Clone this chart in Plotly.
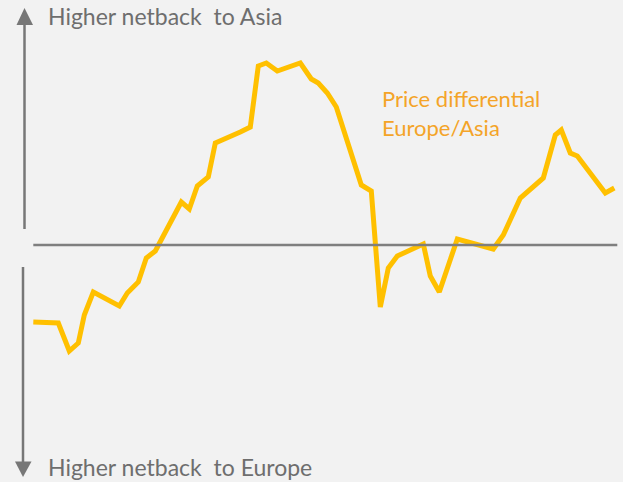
import plotly.graph_objects as go

# time index (arbitrary units) and price differential Europe/Asia (arbitrary units)
period = [0, 2.5, 3.6, 4.5, 5.1, 6.0, 8.6, 9.4, 10.5, 11.3, 12.2, 14.8, 15.6, 16.4, 17.5,
          18.2, 20.7, 21.7, 22.5, 23.3, 24.4, 26.7, 27.8, 28.5, 29.4, 30.3, 32.8, 33.8,
          34.7, 35.5, 36.4, 39.0, 39.7, 40.6, 42.4, 46.0, 47.0, 48.7, 51.0, 52.2, 52.8,
          53.7, 54.4, 57.2, 58.1]
differential = [-7.7, -7.8, -10.6, -9.8, -7.0, -4.7, -6.1, -4.8, -3.7, -1.3, -0.6, 4.3, 3.6,
                5.9, 6.8, 10.2, 11.3, 11.8, 17.9, 18.2, 17.4, 18.2, 16.6, 16.2, 15.2, 13.8,
                6.0, 5.4, -6.2, -2.3, -1.1, 0.1, -3.1, -4.7, 0.6, -0.4, 1.0, 4.7, 6.7, 11.0,
                11.5, 9.2, 8.9, 5.2, 5.7]

top_label = "Higher netback  to Asia"
bottom_label = "Higher netback  to Europe"
series_label = "Price differential<br>Europe/Asia"

W, H = 623, 482
FONT = "Lato"
GREY = "#6e6e6e"

fig = go.Figure()
fig.add_trace(go.Scatter(x=period, y=differential, mode="lines",
                         line=dict(color="#FFC000", width=5), hoverinfo="skip",
                         showlegend=False))

def px(x):
    return x / W

def py(y):
    return 1 - y / H

shapes = [
    # zero line
    dict(type="line", xref="x", yref="y", x0=0, x1=58.4, y0=0, y1=0,
         line=dict(color="#7f7f7f", width=2.5)),
    # upper arrow shaft + head
    dict(type="line", xref="paper", yref="paper", x0=px(24.5), x1=px(24.5),
         y0=py(229), y1=py(22), line=dict(color="#777777", width=2.5)),
    dict(type="path", xref="paper", yref="paper",
         path=f"M {px(16.5)} {py(25)} L {px(24.5)} {py(8)} L {px(33)} {py(25)} Z",
         fillcolor="#777777", line=dict(width=0)),
    # lower arrow shaft + head
    dict(type="line", xref="paper", yref="paper", x0=px(23), x1=px(23),
         y0=py(267), y1=py(463), line=dict(color="#777777", width=2.5)),
    dict(type="path", xref="paper", yref="paper",
         path=f"M {px(15)} {py(461.5)} L {px(23)} {py(477)} L {px(31.5)} {py(461.5)} Z",
         fillcolor="#777777", line=dict(width=0)),
]

annotations = [
    dict(text=top_label, xref="paper", yref="paper", x=px(46), y=py(16),
         xanchor="left", yanchor="middle", showarrow=False,
         font=dict(family=FONT, size=23, color=GREY)),
    dict(text=bottom_label, xref="paper", yref="paper", x=px(46), y=py(467),
         xanchor="left", yanchor="middle", showarrow=False,
         font=dict(family=FONT, size=23, color=GREY)),
    dict(text=series_label, xref="paper", yref="paper", x=px(380), y=py(113),
         xanchor="left", yanchor="middle", showarrow=False, align="left",
         font=dict(family=FONT, size=22, color="#F4A428")),
]

fig.update_layout(
    width=W, height=H,
    margin=dict(l=0, r=0, t=0, b=0),
    paper_bgcolor="#f2f2f2", plot_bgcolor="#f2f2f2",
    xaxis=dict(range=[-3.33, 58.97], visible=False, fixedrange=True),
    yaxis=dict(range=[-23.7, 24.5], visible=False, fixedrange=True),
    shapes=shapes, annotations=annotations,
)

fig.write_html("out.html", config={"displayModeBar": False},
               post_script="document.body.style.margin='0';document.body.style.background='#f2f2f2';")
